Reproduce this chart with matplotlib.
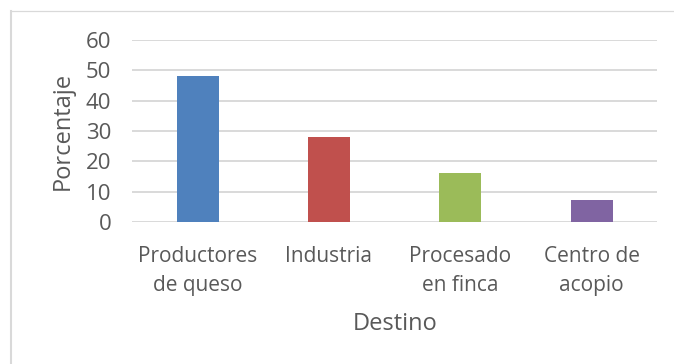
import matplotlib.pyplot as plt
from matplotlib.lines import Line2D

# Datos: destino de la leche (%)
destinos = ['Productores\nde queso', 'Industria', 'Procesado\nen finca', 'Centro de\nacopio']
porcentaje = [48.1, 28.0, 16.3, 7.4]
colores = ['#4F81BD', '#C0504D', '#9BBB59', '#8064A2']

plt.rcParams['font.family'] = ['Open Sans', 'DejaVu Sans']
gris_texto = '#595959'

fig = plt.figure(figsize=(6.74, 3.64), dpi=100)
ax = fig.add_axes([0.196, 0.39, 0.779, 0.5])

x = range(len(destinos))
ax.bar(x, porcentaje, width=0.32, color=colores, zorder=3)

ax.set_ylim(0, 60)
ax.set_yticks(range(0, 61, 10))
ax.set_xlim(-0.5, len(destinos) - 0.5)
ax.set_xticks(list(x))
ax.set_xticklabels(destinos, linespacing=1.5)

ax.grid(axis='y', color='#d9d9d9', linewidth=1.4, zorder=0)
for s in ax.spines.values():
    s.set_visible(False)
ax.tick_params(length=0, colors=gris_texto)
ax.tick_params(axis='y', labelsize=16, pad=15)
ax.tick_params(axis='x', labelsize=15, pad=17)

ax.set_ylabel('Porcentaje', fontsize=17, color=gris_texto, labelpad=8)
ax.set_xlabel('Destino', fontsize=17, color=gris_texto, labelpad=12)

# marco del gráfico
fig.add_artist(Line2D([10.5 / 674, 10.5 / 674], [0, 1 - 11 / 364],
                      transform=fig.transFigure, color='#d9d9d9', lw=1.5))
fig.add_artist(Line2D([10.5 / 674, 1], [1 - 11 / 364, 1 - 11 / 364],
                      transform=fig.transFigure, color='#d9d9d9', lw=0.9))

plt.savefig('out.png', dpi=100)
